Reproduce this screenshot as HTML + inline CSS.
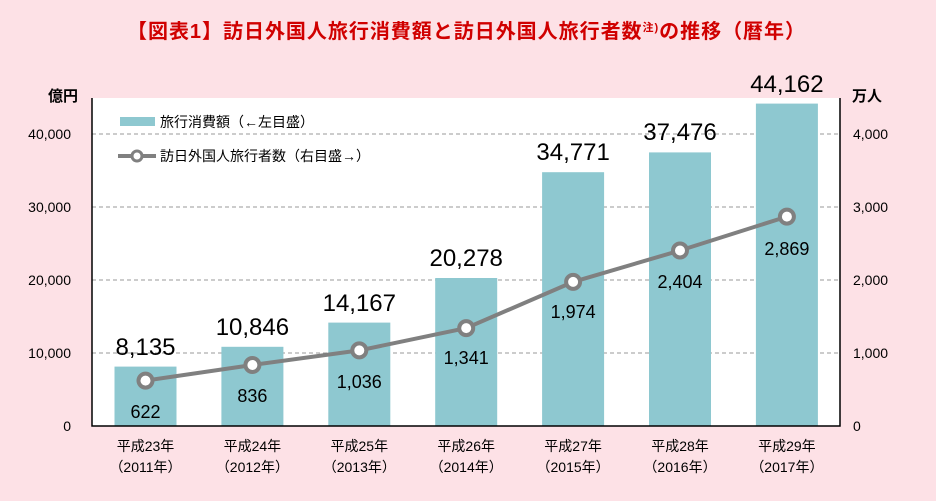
<!DOCTYPE html>
<html><head><meta charset="utf-8"><style>
body{margin:0;background:#fde1e6;}
svg{display:block;font-family:"Liberation Sans","Noto Sans CJK JP",sans-serif;}
</style></head><body>
<svg width="936" height="501" viewBox="0 0 936 501">
<rect width="936" height="501" fill="#fde1e6"/>
<text x="127" y="38" font-size="20" font-weight="bold" fill="#d00000" textLength="678" lengthAdjust="spacing">【図表1】訪日外国人旅行消費額と訪日外国人旅行者数<tspan font-size="11" dy="-7">注)</tspan><tspan dy="7">の推移（暦年）</tspan></text>
<rect x="92" y="98" width="748" height="328" fill="#fff"/>
<g stroke="#999" stroke-dasharray="4,3" stroke-width="1">
<line x1="92" y1="134" x2="840" y2="134"/><line x1="92" y1="207" x2="840" y2="207"/><line x1="92" y1="280" x2="840" y2="280"/><line x1="92" y1="353" x2="840" y2="353"/>
</g>
<g fill="#8ec8d0">
<rect x="114.5" y="366.6" width="62" height="59.4"/>
<rect x="221.4" y="346.8" width="62" height="79.2"/>
<rect x="328.3" y="322.6" width="62" height="103.4"/>
<rect x="435.2" y="278" width="62" height="148"/>
<rect x="542.1" y="172.2" width="62" height="253.8"/>
<rect x="649" y="152.4" width="62" height="273.6"/>
<rect x="755.9" y="103.6" width="62" height="322.4"/>
</g>
<path d="M92 98V426H840V98" fill="none" stroke="#000" stroke-width="1.5"/>
<g font-size="24" text-anchor="middle" fill="#000">
<text x="145.5" y="355">8,135</text><text x="252.4" y="335">10,846</text><text x="359.3" y="311">14,167</text><text x="466.2" y="266">20,278</text><text x="573.1" y="160">34,771</text><text x="680" y="140">37,476</text><text x="786.9" y="92">44,162</text>
</g>
<polyline points="145.5,380.6 252.4,365 359.3,350.4 466.2,328.1 573.1,281.9 680,250.5 786.9,216.6" fill="none" stroke="#808080" stroke-width="4"/>
<g fill="#fff" stroke="#808080" stroke-width="4">
<circle cx="145.5" cy="380.6" r="7"/><circle cx="252.4" cy="365" r="7"/><circle cx="359.3" cy="350.4" r="7"/><circle cx="466.2" cy="328.1" r="7"/><circle cx="573.1" cy="281.9" r="7"/><circle cx="680" cy="250.5" r="7"/><circle cx="786.9" cy="216.6" r="7"/>
</g>
<g font-size="18" text-anchor="middle" fill="#000">
<text x="145.5" y="418">622</text><text x="252.4" y="402">836</text><text x="359.3" y="388">1,036</text><text x="466.2" y="364">1,341</text><text x="573.1" y="318">1,974</text><text x="680" y="288">2,404</text><text x="786.9" y="255">2,869</text>
</g>
<g font-size="14" text-anchor="end" fill="#000">
<text x="71" y="139">40,000</text><text x="71" y="212">30,000</text><text x="71" y="285">20,000</text><text x="71" y="358">10,000</text><text x="71" y="431">0</text>
</g>
<g font-size="14" text-anchor="start" fill="#000">
<text x="853" y="139">4,000</text><text x="853" y="212">3,000</text><text x="853" y="285">2,000</text><text x="853" y="358">1,000</text><text x="853" y="431">0</text>
</g>
<text x="48" y="101" font-size="15" font-weight="bold">億円</text>
<text x="852" y="101" font-size="15" font-weight="bold">万人</text>
<rect x="120" y="117" width="35" height="9" fill="#8ec8d0"/>
<text x="160" y="127" font-size="14">旅行消費額（←左目盛）</text>
<line x1="118" y1="156" x2="156" y2="156" stroke="#808080" stroke-width="4"/>
<circle cx="137" cy="156" r="5" fill="#fff" stroke="#808080" stroke-width="3"/>
<text x="160" y="161" font-size="14">訪日外国人旅行者数（右目盛→）</text>
<g font-size="14" text-anchor="middle" fill="#000">
<text x="145.5" y="451">平成23年</text><text x="145.5" y="472">（2011年）</text>
<text x="252.4" y="451">平成24年</text><text x="252.4" y="472">（2012年）</text>
<text x="359.3" y="451">平成25年</text><text x="359.3" y="472">（2013年）</text>
<text x="466.2" y="451">平成26年</text><text x="466.2" y="472">（2014年）</text>
<text x="573.1" y="451">平成27年</text><text x="573.1" y="472">（2015年）</text>
<text x="680" y="451">平成28年</text><text x="680" y="472">（2016年）</text>
<text x="786.9" y="451">平成29年</text><text x="786.9" y="472">（2017年）</text>
</g>
</svg>
</body></html>
